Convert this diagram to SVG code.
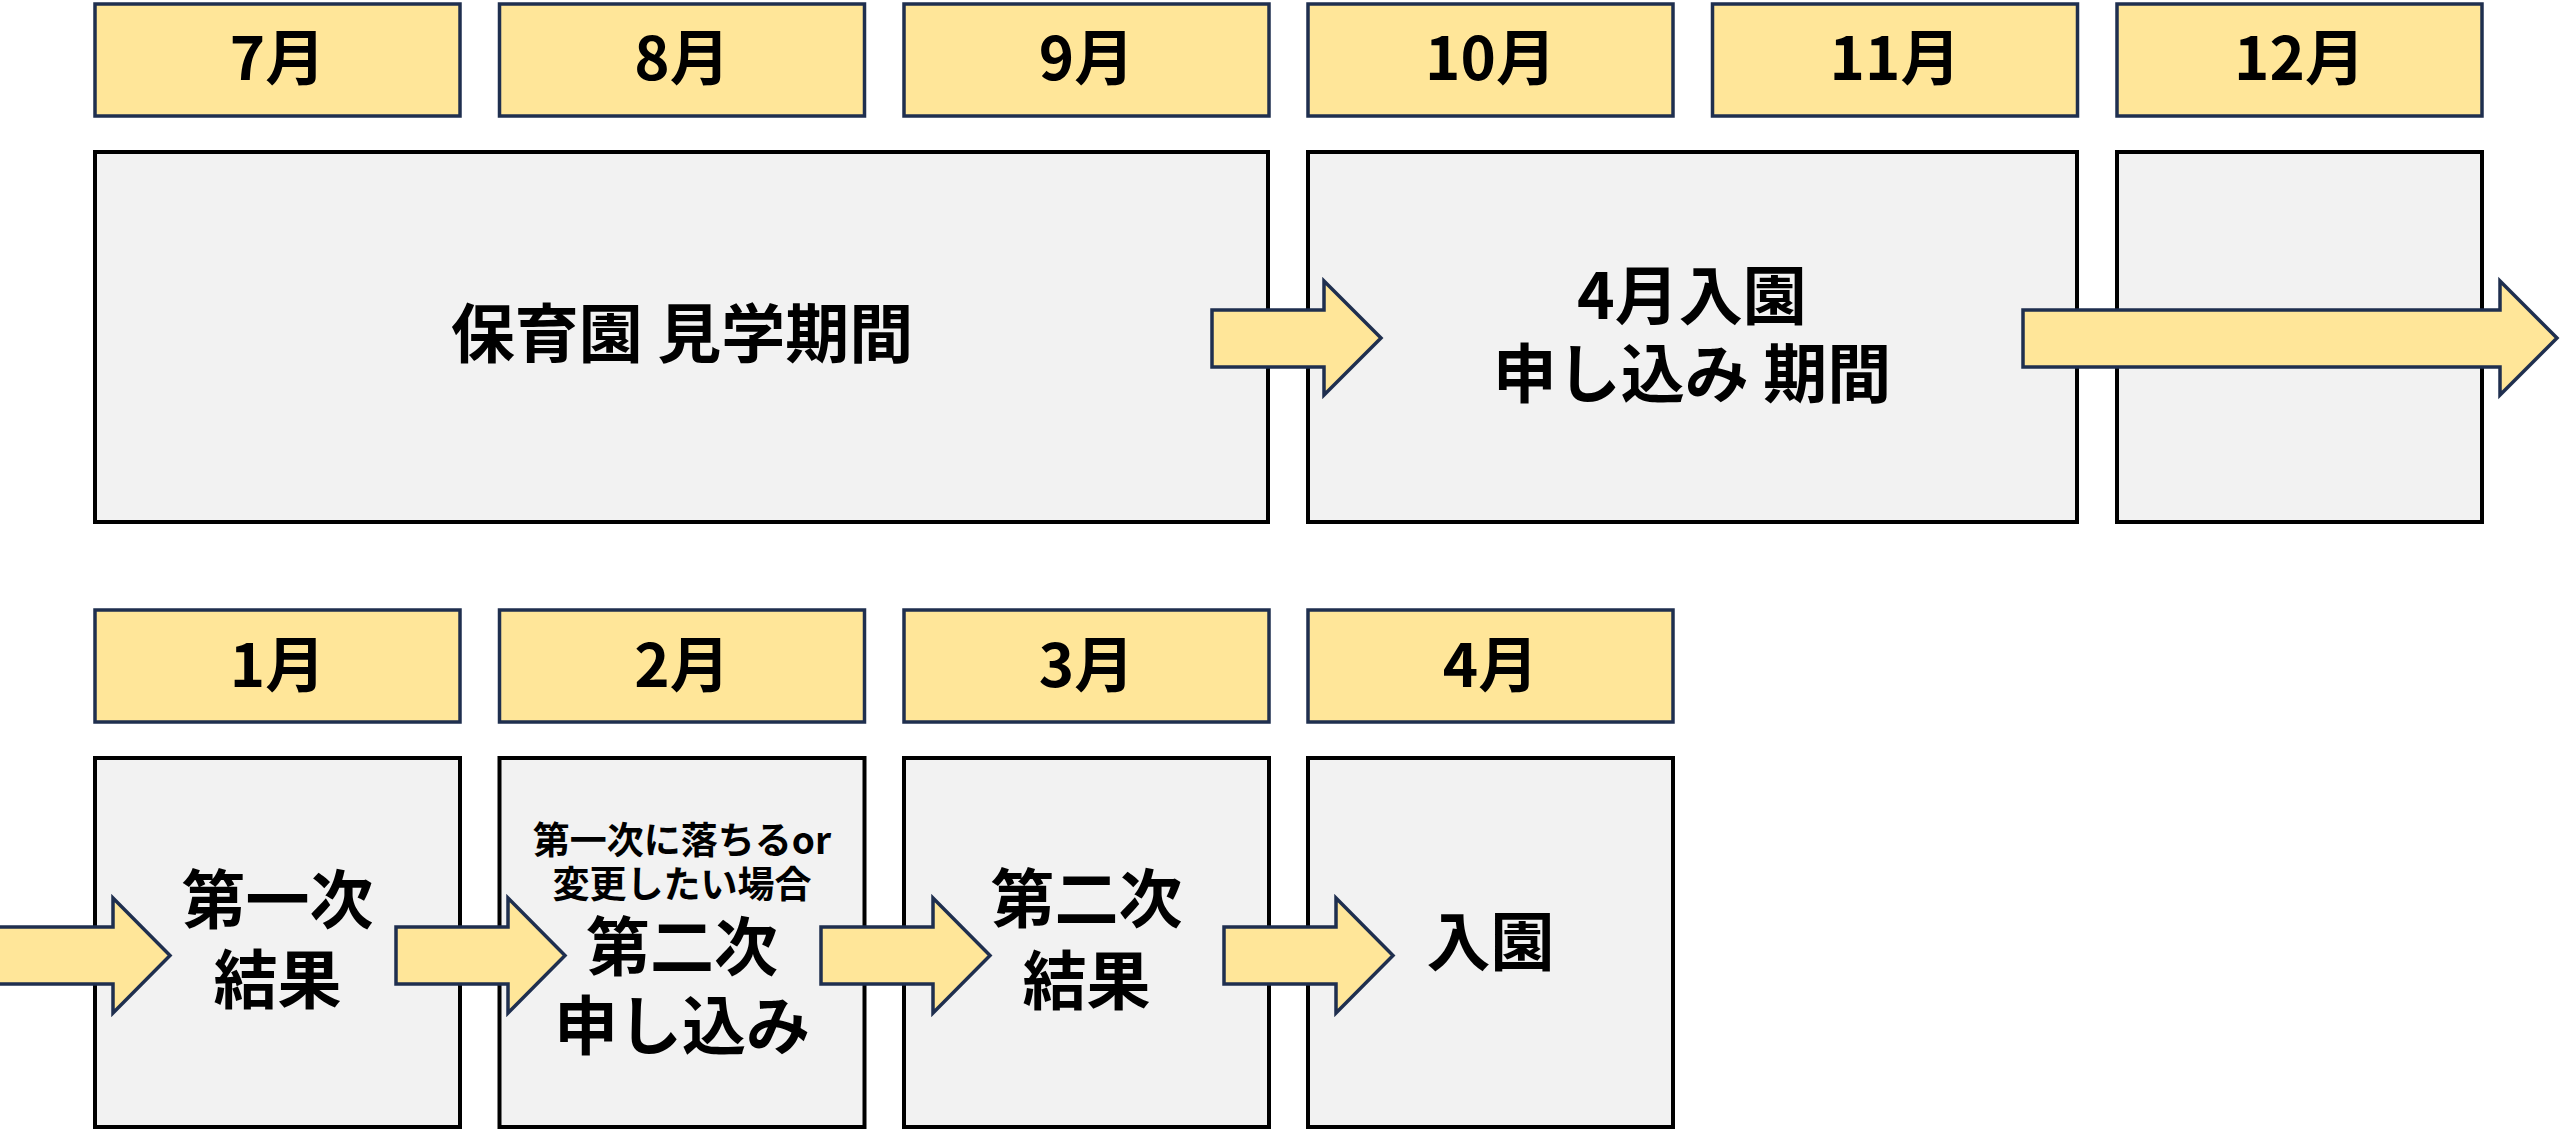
<svg xmlns="http://www.w3.org/2000/svg" width="2560" height="1130" viewBox="0 0 2560 1130">
<style>
.m{fill:#FFE699;stroke:#1F2F4F;stroke-width:3.5}
.b{fill:#F2F2F2;stroke:#000;stroke-width:4}
.a{fill:#FFE699;stroke:#1F2F4F;stroke-width:3.5;stroke-linejoin:miter}
text{font-family:"Noto Sans CJK JP","Noto Sans",sans-serif;font-weight:bold;fill:#000;text-anchor:middle}
.tm{font-size:60px}
.tb{font-size:64px}
.ts{font-size:37px}
</style>
<defs>
<polygon id="arr" points="0,28 112,28 112,-29 169,0 112,29 112,-28 0,-28" />
</defs>
<rect width="2560" height="1130" fill="#fff"/>
<g id="m7"><rect class="m" x="95" y="4" width="365" height="112"/><text class="tm" x="277.5" y="80">7月</text></g>
<g id="m8"><rect class="m" x="499.5" y="4" width="365" height="112"/><text class="tm" x="682" y="80">8月</text></g>
<g id="m9"><rect class="m" x="904" y="4" width="365" height="112"/><text class="tm" x="1086.5" y="80">9月</text></g>
<g id="m10"><rect class="m" x="1308" y="4" width="365" height="112"/><text class="tm" x="1490.5" y="80">10月</text></g>
<g id="m11"><rect class="m" x="1712.5" y="4" width="365" height="112"/><text class="tm" x="1895" y="80">11月</text></g>
<g id="m12"><rect class="m" x="2117" y="4" width="365" height="112"/><text class="tm" x="2299.5" y="80">12月</text></g>
<g id="p1"><rect class="b" x="95" y="152" width="1173" height="370"/><text class="tb" x="682" y="357">保育園 見学期間</text></g>
<g id="p2"><rect class="b" x="1308" y="152" width="769" height="370"/><text class="tb" x="1692" y="319">4月入園</text><text class="tb" x="1692" y="397">申し込み 期間</text></g>
<g id="p3"><rect class="b" x="2117" y="152" width="365" height="370"/></g>
<g id="m1"><rect class="m" x="95" y="610" width="365" height="112"/><text class="tm" x="277.5" y="687">1月</text></g>
<g id="m2"><rect class="m" x="499.5" y="610" width="365" height="112"/><text class="tm" x="682" y="687">2月</text></g>
<g id="m3"><rect class="m" x="904" y="610" width="365" height="112"/><text class="tm" x="1086.5" y="687">3月</text></g>
<g id="m4"><rect class="m" x="1308" y="610" width="365" height="112"/><text class="tm" x="1490.5" y="687">4月</text></g>
<g id="r1"><rect class="b" x="95" y="758" width="365" height="369"/><text class="tb" x="277.5" y="923">第一次</text><text class="tb" x="277.5" y="1003">結果</text></g>
<g id="r2"><rect class="b" x="499.5" y="758" width="365" height="369"/><text class="ts" x="682" y="854">第一次に落ちるor</text><text class="ts" x="682" y="898">変更したい場合</text><text class="tb" x="682" y="970">第二次</text><text class="tb" x="682" y="1049">申し込み</text></g>
<g id="r3"><rect class="b" x="904" y="758" width="365" height="369"/><text class="tb" x="1086.5" y="922">第二次</text><text class="tb" x="1086.5" y="1004">結果</text></g>
<g id="r4"><rect class="b" x="1308" y="758" width="365" height="369"/><text class="tb" x="1490.5" y="965">入園</text></g>
<g id="connectors">
<polygon class="a" points="1212,310 1324,310 1324,281 1381,338 1324,395 1324,367 1212,367"/>
<polygon class="a" points="2023,310 2500,310 2500,281 2557,338 2500,395 2500,367 2023,367"/>
<polygon class="a" points="-10,927 113,927 113,898 170,955.5 113,1013 113,984 -10,984"/>
<polygon class="a" points="396,927 508,927 508,898 565,955.5 508,1013 508,984 396,984"/>
<polygon class="a" points="821,927 933,927 933,898 990,955.5 933,1013 933,984 821,984"/>
<polygon class="a" points="1224,927 1336,927 1336,898 1393,955.5 1336,1013 1336,984 1224,984"/>
</g>
</svg>
